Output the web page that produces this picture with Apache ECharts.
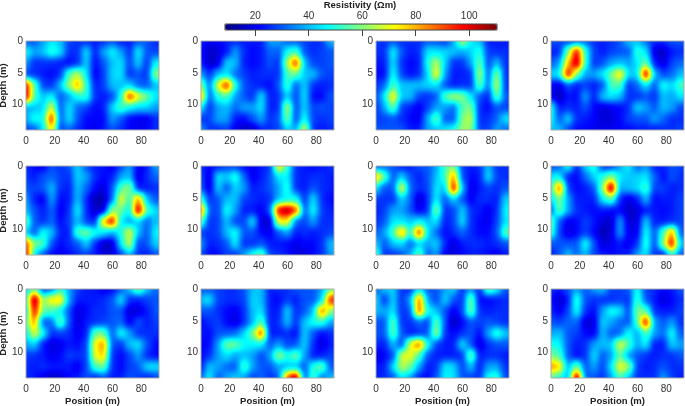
<!DOCTYPE html>
<html>

<head>
  <meta charset="utf-8" />
  <title>Resistivity sections</title>
  <script src="https://cdn.jsdelivr.net/npm/echarts@6/dist/echarts.min.js"></script>
</head>
<style>
  body { margin: 0; padding: 0; overflow: hidden; background: #fff; }
  #heat, #main { position: absolute; left: 0; top: 0; width: 685px; height: 406px; }
  #heat { filter: url(#smooth); }
</style>

<body>
  <!-- values are drawn in grey, smoothed, then the grey is mapped onto jet -->
  <svg width="0" height="0" style="position:absolute">
    <filter id="smooth" x="0" y="0" width="100%" height="100%" color-interpolation-filters="sRGB">
      <feGaussianBlur stdDeviation="3 3.6" />
      <feComponentTransfer>
        <feFuncR type="table" tableValues="0 0 0 0 .5 1 1 1 .5" />
        <feFuncG type="table" tableValues="0 0 .5 1 1 1 .5 0 0" />
        <feFuncB type="table" tableValues=".5 1 1 1 .5 0 0 0 0" />
        <feFuncA type="table" tableValues="1 1" />
      </feComponentTransfer>
    </filter>
  </svg>
  <div id="heat"></div>
  <div id="main"></div>
  <script type="text/javascript">
    const positions = [0, 6, 12, 18, 24, 30, 36, 42, 48, 54, 60, 66, 72, 78, 84, 90];
    const depths = [0, 1.75, 3.5, 5.25, 7, 8.75, 10.5, 12.25, 14];
    const positionTicks = [0, 20, 40, 60, 80];
    const depthTicks = [0, 5, 10];
    const colorTicks = [20, 40, 60, 80, 100];
    const colorMin = 8.7, colorMax = 110.4;
    const jet = ['#00007f', '#0000ff', '#007fff', '#00ffff', '#7fff7f', '#ffff00', '#ff7f00', '#ff0000', '#7f0000'];

    // resistivity, one row per depth
    const panel1 = [
      [30,30,38,45,41,28,26,26,24,26,30,24,24,30,30,26],
      [49,38,41,51,45,26,26,45,24,38,47,38,26,47,30,28],
      [38,26,26,26,24,22,26,43,22,30,41,45,28,43,26,47],
      [28,26,24,22,26,55,66,45,20,28,43,45,26,30,26,62],
      [100,56,28,26,41,62,82,52,24,28,41,41,43,32,30,41],
      [104,54,41,47,30,38,49,52,26,24,28,49,94,70,58,45],
      [38,41,43,70,30,45,32,28,22,24,43,54,47,43,43,38],
      [38,49,47,96,30,45,30,22,22,22,38,30,22,20,20,26],
      [28,30,45,76,28,32,26,22,20,24,30,26,22,20,22,26]
    ];
    const panel2 = [
      [26,20,22,24,26,24,24,24,38,38,30,30,28,26,26,41],
      [24,16,18,24,38,26,22,24,32,30,49,54,30,26,28,30],
      [26,16,18,43,41,24,22,24,30,26,64,94,41,28,28,30],
      [38,26,41,45,32,28,24,26,26,26,54,58,41,41,30,28],
      [64,32,70,96,49,30,26,24,22,30,54,30,43,26,24,26],
      [84,30,51,54,38,30,26,45,24,26,43,28,45,22,22,30],
      [47,26,38,41,32,38,38,45,24,26,66,28,43,28,30,28],
      [26,28,38,38,24,22,30,38,26,30,60,28,49,28,26,28],
      [38,26,26,28,20,16,16,24,26,28,43,38,70,26,24,26]
    ];
    const panel3 = [
      [28,26,30,26,26,26,30,30,26,38,66,45,41,24,24,24],
      [26,26,47,30,24,26,45,45,43,41,38,43,51,28,26,26],
      [24,24,45,26,22,24,49,66,43,26,26,38,58,28,41,26],
      [22,22,49,28,22,26,43,74,38,24,24,26,66,30,62,26],
      [26,32,55,41,41,41,43,45,30,24,26,26,58,32,68,26],
      [28,45,76,41,41,28,26,30,55,64,60,45,30,24,58,30],
      [26,38,58,28,24,20,28,38,38,32,55,60,26,22,30,28],
      [28,28,30,26,22,20,38,58,30,30,60,66,26,26,32,45],
      [30,30,30,30,24,24,38,41,45,49,62,62,28,28,38,32]
    ];
    const panel4 = [
      [30,28,28,30,32,26,24,26,30,41,41,32,26,26,30,30],
      [24,26,60,100,51,28,24,28,30,30,52,45,18,16,24,26],
      [30,38,78,108,52,26,30,38,41,38,45,58,24,18,28,32],
      [43,47,100,60,38,38,45,58,76,43,43,104,41,28,32,41],
      [22,18,30,24,28,24,30,54,55,26,32,45,30,49,43,54],
      [22,14,24,22,38,24,41,45,41,26,26,30,26,41,38,45],
      [51,24,26,24,30,22,18,20,22,26,43,38,30,41,38,28],
      [49,30,43,26,24,22,18,18,22,28,30,30,38,32,26,26],
      [41,41,28,22,22,20,20,20,22,22,24,24,24,26,26,28]
    ];
    const panel5 = [
      [26,22,20,30,26,30,43,30,24,24,20,28,38,20,24,38],
      [28,24,30,32,28,26,43,38,26,22,24,38,41,18,26,32],
      [30,28,30,41,26,24,41,32,22,18,30,55,62,24,24,26],
      [38,24,20,38,22,24,41,26,14,14,32,72,51,84,41,30],
      [41,30,24,32,20,26,47,26,16,18,62,58,45,106,54,43],
      [58,30,26,32,22,28,41,28,24,78,100,45,38,43,32,41],
      [43,30,49,41,24,24,55,58,49,45,38,49,70,41,30,47],
      [92,60,54,30,22,26,30,43,26,16,16,45,68,28,30,43],
      [100,47,30,22,20,22,26,28,24,18,18,28,41,26,24,30]
    ];
    const panel6 = [
      [26,22,24,28,28,22,20,24,26,76,52,26,24,22,24,26],
      [30,18,45,41,51,32,20,24,30,45,47,26,24,26,26,24],
      [32,18,43,30,43,38,24,26,30,38,51,26,24,30,26,24],
      [54,26,30,41,41,28,26,24,26,41,47,49,26,45,26,22],
      [92,30,28,49,38,24,24,20,30,100,108,92,30,49,28,24],
      [58,26,28,41,28,28,45,18,16,72,74,32,28,38,26,26],
      [28,26,28,41,49,30,30,22,20,30,38,24,26,24,26,28],
      [38,24,26,30,47,26,26,30,24,24,22,20,22,22,26,41],
      [30,22,22,28,26,38,49,58,28,26,24,18,18,22,26,38]
    ];
    const panel7 = [
      [30,32,30,24,24,30,30,38,54,60,28,24,26,41,26,26],
      [82,56,30,43,30,24,30,41,52,84,30,22,24,45,28,26],
      [45,30,30,72,32,26,28,45,41,100,41,18,24,28,26,30],
      [28,26,26,43,32,16,26,47,30,43,30,20,26,26,24,43],
      [24,28,38,38,30,20,26,62,26,28,43,26,24,20,26,47],
      [26,30,45,45,41,47,41,45,24,28,45,26,22,20,28,45],
      [30,38,54,82,49,94,45,32,22,26,32,26,22,22,30,56],
      [43,30,41,43,32,43,38,43,26,18,24,26,26,24,26,30],
      [56,26,26,30,38,58,30,38,20,18,22,24,24,22,20,24]
    ];
    const panel8 = [
      [30,30,51,24,43,52,26,26,38,47,30,38,24,24,30,28],
      [45,47,24,22,32,43,50,62,45,41,43,45,32,22,30,26],
      [49,90,28,22,24,30,60,110,38,41,43,54,28,28,24,26],
      [43,60,38,24,24,24,46,56,26,18,24,41,22,24,24,28],
      [30,58,38,26,24,22,24,22,22,16,18,24,24,22,24,28],
      [58,30,20,22,28,24,18,16,38,18,18,43,24,24,26,28],
      [55,28,18,22,28,22,14,18,38,20,20,49,30,54,84,30],
      [30,30,30,30,49,30,18,20,24,20,26,52,28,60,100,41],
      [24,30,41,32,41,28,24,22,24,24,38,45,26,24,52,30]
    ];
    const panel9 = [
      [41,60,28,32,52,38,28,24,24,20,22,30,41,60,41,32],
      [49,110,60,74,76,38,24,24,24,26,30,45,26,24,28,30],
      [43,100,56,54,47,30,18,22,26,26,30,30,18,18,24,30],
      [54,84,30,32,58,30,18,24,26,28,30,32,20,30,24,28],
      [45,70,49,26,28,26,20,24,58,58,30,49,38,26,26,26],
      [38,43,24,18,20,24,22,28,72,84,30,26,41,45,30,22],
      [28,26,24,20,22,28,26,28,70,78,26,22,28,38,26,22],
      [26,24,26,24,24,24,20,28,54,58,26,22,28,30,43,45],
      [26,24,20,16,18,22,24,30,24,30,24,24,30,28,24,28]
    ];
    const panel10 = [
      [30,30,28,26,26,30,41,41,24,26,26,30,30,30,38,58],
      [41,45,28,26,26,28,43,41,24,22,28,24,30,30,43,96],
      [30,30,26,22,20,26,41,45,24,24,43,26,30,41,88,60],
      [22,26,28,22,18,26,40,56,24,26,41,26,41,49,52,38],
      [24,22,30,30,32,43,58,92,24,24,26,22,43,30,22,26],
      [22,22,38,58,58,47,46,46,30,38,28,30,43,26,18,24],
      [22,26,38,45,38,41,38,28,38,62,49,58,38,24,24,28],
      [24,41,38,32,30,55,38,30,30,38,41,41,30,51,58,30],
      [32,47,30,38,43,38,28,32,26,30,90,110,30,55,32,41]
    ];
    const panel11 = [
      [30,41,43,26,26,45,30,30,38,43,26,38,24,58,47,30],
      [45,26,43,26,38,88,38,28,43,30,26,60,22,22,24,26],
      [41,38,45,26,30,90,49,41,30,20,28,60,26,24,26,26],
      [30,30,58,26,26,32,28,58,30,14,22,30,28,30,28,26],
      [30,30,58,30,24,26,30,64,26,22,26,30,22,38,52,41],
      [26,24,41,28,70,88,49,28,24,24,45,30,18,26,30,30],
      [18,22,28,68,72,54,30,24,24,24,26,60,24,26,26,24],
      [24,24,43,66,58,38,24,26,45,43,28,41,24,38,38,26],
      [24,26,30,45,38,24,22,30,47,45,30,28,26,49,52,28]
    ];
    const panel12 = [
      [26,24,30,38,30,38,41,28,28,30,49,28,26,22,24,30],
      [24,16,24,52,30,26,26,26,28,26,54,30,24,18,22,26],
      [26,20,28,49,26,22,38,49,45,28,60,56,26,24,24,28],
      [30,28,32,32,18,18,43,38,32,30,54,100,38,30,38,26],
      [38,41,30,28,22,20,41,30,32,49,38,55,38,32,49,30],
      [49,47,30,24,26,38,41,41,70,54,38,47,24,24,43,38],
      [58,55,30,22,26,45,30,38,58,38,30,26,24,26,26,30],
      [84,76,38,60,30,38,28,45,72,62,28,24,26,30,26,26],
      [54,51,38,110,32,30,26,38,55,41,26,26,26,38,28,24]
    ];
    const panels = [panel1, panel2, panel3, panel4, panel5, panel6, panel7, panel8, panel9, panel10, panel11, panel12];

    // layout of the small multiples
    const lefts = [26, 201, 376, 551], tops = [41, 166, 289];
    const W = 133, H = 89, posMax = 92.3, depthMax = 14;
    const font = '"Liberation Sans", Arial, sans-serif';

    const heatChart = echarts.init(document.getElementById('heat'));
    const mainChart = echarts.init(document.getElementById('main'));

    const stepX = 6 * W / posMax, stepY = 1.75 * H / depthMax;
    const heatOption = {
      animation: false,
      visualMap: { show: false, min: colorMin, max: colorMax, inRange: { color: ['#000000', '#ffffff'] } },
      grid: [], xAxis: [], yAxis: [], series: []
    };
    const mainOption = {
      animation: false,
      textStyle: { fontFamily: font },
      title: {
        text: 'Resistivity (\u03a9m)', left: 360, top: 0, textAlign: 'center', padding: 0,
        textStyle: { fontSize: 9.5, fontWeight: 'bold', color: '#222', fontFamily: font }
      },
      visualMap: {
        type: 'continuous', seriesIndex: [], min: colorMin, max: colorMax, orient: 'horizontal',
        left: 225, top: 24, itemWidth: 6, itemHeight: 272, padding: 0, text: null,
        calculable: false, realtime: false, hoverLink: false, inRange: { color: jet }, z: 1
      },
      grid: [{ left: 225, top: 24, width: 272, height: 6, show: true, borderColor: '#444', borderWidth: 1, backgroundColor: 'transparent', z: 5, outerBoundsMode: 'none' }],
      xAxis: [{
        type: 'value', gridIndex: 0, min: colorMin, max: colorMax, position: 'top', z: 5,
        axisLine: { show: false }, splitLine: { show: false },
        axisTick: { inside: true, length: 6, lineStyle: { color: '#444' }, customValues: colorTicks },
        axisLabel: { fontSize: 10, color: '#333', margin: 3, customValues: colorTicks, fontFamily: font }
      }],
      yAxis: [{ type: 'value', gridIndex: 0, show: false }],
      series: []
    };
    const clip = [];

    panels.forEach((panel, n) => {
      const col = n % 4, row = Math.floor(n / 4);
      const L = lefts[col], T = tops[row];
      clip.push(`M${L} ${T}H${L + W}V${T + H}H${L}Z`);

      const data = [];
      panel.forEach((vals, j) => vals.forEach((v, i) => data.push([i, j, v])));
      heatOption.grid.push({ left: L - stepX / 2, top: T - stepY / 2, width: stepX * positions.length, height: stepY * depths.length, outerBoundsMode: 'none' });
      heatOption.xAxis.push({ type: 'category', gridIndex: n, data: positions, show: false });
      heatOption.yAxis.push({ type: 'category', gridIndex: n, data: depths, inverse: true, show: false });
      heatOption.series.push({ type: 'heatmap', xAxisIndex: n, yAxisIndex: n, data: data, progressive: 0, itemStyle: { borderWidth: 0 }, emphasis: { disabled: true } });

      mainOption.grid.push({ left: L, top: T, width: W, height: H, show: true, borderColor: '#a8a8a8', borderWidth: 1, backgroundColor: 'transparent', outerBoundsMode: 'none' });
      mainOption.xAxis.push({
        type: 'value', gridIndex: n + 1, min: 0, max: posMax,
        name: row === 2 ? 'Position (m)' : '', nameLocation: 'middle', nameGap: 18,
        nameTextStyle: { fontSize: 9.5, fontWeight: 'bold', color: '#222', fontFamily: font },
        axisLine: { show: false }, axisTick: { show: false }, splitLine: { show: false },
        axisLabel: { fontSize: 10, color: '#333', margin: 6, customValues: positionTicks, fontFamily: font }
      });
      mainOption.yAxis.push({
        type: 'value', gridIndex: n + 1, min: 0, max: depthMax, inverse: true,
        name: col === 0 ? 'Depth (m)' : '', nameLocation: 'middle', nameGap: 8,
        nameTextStyle: { fontSize: 9.5, fontWeight: 'bold', color: '#222', fontFamily: font },
        axisLine: { show: false }, axisTick: { show: false }, splitLine: { show: false },
        axisLabel: { fontSize: 10, color: '#333', margin: 3, customValues: depthTicks, fontFamily: font }
      });
    });

    document.getElementById('heat').style.clipPath = `path('${clip.join('')}')`;
    heatChart.setOption(heatOption);
    mainChart.setOption(mainOption);
  </script>
</body>

</html>
